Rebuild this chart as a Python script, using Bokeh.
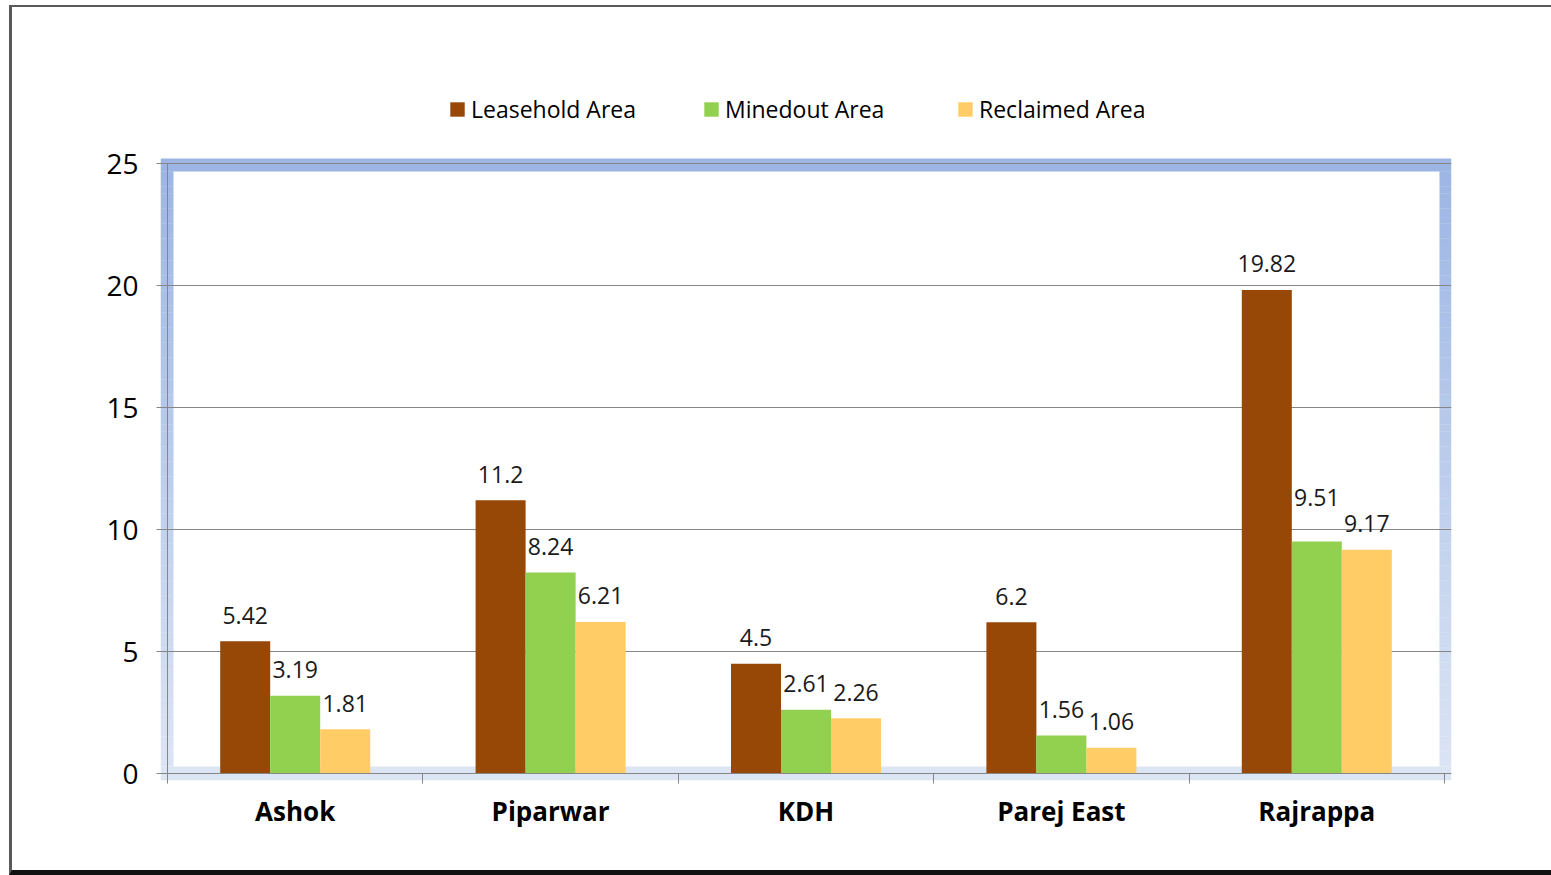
from bokeh.plotting import figure
from bokeh.models import Range1d, FixedTicker, Legend, LegendItem, ColumnDataSource
from bokeh.core.properties import value
from bokeh.transform import dodge
from bokeh.embed import file_html
from bokeh.resources import INLINE

# ---------------- data ----------------
categories = ["Ashok", "Piparwar", "KDH", "Parej East", "Rajrappa"]
series_names = ["Leasehold Area", "Minedout Area", "Reclaimed Area"]
leasehold = [5.42, 11.2, 4.5, 6.2, 19.82]
minedout = [3.19, 8.24, 2.61, 1.56, 9.51]
reclaimed = [1.81, 6.21, 2.26, 1.06, 9.17]
y_ticks = [0, 5, 10, 15, 20, 25]

# ---------------- style / layout ----------------
colors = ["#974706", "#92D050", "#FFCC66"]
FONT = "Open Sans"
W, H = 1542, 870            # canvas size (host element clips the overflow)
ML, MR, MT, MB = 148, 103, 73, 97
frame_w = W - ML - MR
frame_h = H - MT - MB
n = len(categories)
PAD_L, PAD_R, PAD_B, PAD_T = 7, 7, 7, 83     # px between data extent and frame edge
KX = (frame_w - PAD_L - PAD_R) / n
KY = (frame_h - PAD_B - PAD_T) / y_ticks[-1]
bw = 50 / KX
LABEL_GAP = 26
label_raise = {("Minedout Area", "Rajrappa"): 18}

p = figure(width=W, height=H, output_backend="svg", toolbar_location=None,
           x_range=Range1d(-PAD_L / KX, n + PAD_R / KX),
           y_range=Range1d(-PAD_B / KY, y_ticks[-1] + PAD_T / KY),
           min_border_left=ML, min_border_right=MR, min_border_top=MT, min_border_bottom=MB,
           background_fill_color="white", border_fill_color="white",
           styles={"border-left": "3px solid #5a5a5a", "border-top": "2px solid #5a5a5a",
                   "border-bottom": "5px solid #111111", "margin-top": "5px",
                   "margin-left": "9px"})
p.outline_line_color = None
p.xgrid.visible = False
p.ygrid.grid_line_color = "#868686"
p.ygrid.grid_line_width = 1

# ---- gradient plot-area border (decoration) ----
def grad(t):
    c0 = (155, 181, 227)
    c1 = (221, 229, 244)
    r, g, b = (round(a + (bb - a) * t) for a, bb in zip(c0, c1))
    return "#%02x%02x%02x" % (r, g, b)

xs, xe = p.x_range.start, p.x_range.end
ys = p.y_range.start
ye = y_ticks[-1] + 5 / KY          # outer top edge of the border
tl, tr = 13 / KX, 12 / KX
tt, tb = 13 / KY, 14 / KY
ql, qr, qb, qt, qc = [], [], [], [], []
ql.append(xs); qr.append(xe); qb.append(ye - tt); qt.append(ye); qc.append(grad(0.01))
ql.append(xs); qr.append(xe); qb.append(ys); qt.append(ys + tb); qc.append(grad(0.99))
N = 80
span = (ye - tt) - (ys + tb)
for k in range(N):
    top = ye - tt - span * k / N
    bot = ye - tt - span * (k + 1) / N
    t = (ye - (top + bot) / 2) / (ye - ys)
    for a, b in ((xs, xs + tl), (xe - tr, xe)):
        ql.append(a); qr.append(b); qb.append(bot); qt.append(top + 0.01); qc.append(grad(t))
p.quad(left=ql, right=qr, bottom=qb, top=qt, fill_color=qc, line_color=None, level="underlay")

# ---- bars ----
src = ColumnDataSource(dict(xc=[i + 0.5 for i in range(n)], cat=categories,
                            **{s: v for s, v in zip(series_names, [leasehold, minedout, reclaimed])}))
renderers = []
for j, (name, vals) in enumerate(zip(series_names, [leasehold, minedout, reclaimed])):
    off = (j - 1) * bw
    r = p.vbar(x=dodge("xc", off, range=p.x_range), top=name, width=bw, source=src,
               fill_color=colors[j], line_color=None)
    renderers.append(r)
    lsrc = ColumnDataSource(dict(
        x=[i + 0.5 + off for i in range(n)], y=vals,
        txt=[f"{v:g}" for v in vals],
        yo=[-LABEL_GAP - label_raise.get((name, c), 0) for c in categories]))
    p.text(x="x", y="y", text="txt", y_offset="yo", source=lsrc, text_align="center",
           text_baseline="alphabetic", text_font=value(FONT), text_font_size="23px",
           text_color="#1a1a1a")

# ---- axis lines ----
p.segment(x0=[0, 0], y0=[0, 0], x1=[n, 0], y1=[0, y_ticks[-1]], line_color="#868686",
          line_width=1, level="overlay")

# ---- axes ----
yax = p.yaxis[0]
yax.ticker = FixedTicker(ticks=y_ticks)
yax.axis_line_color = None
yax.major_tick_in = 7
yax.major_tick_out = 4
yax.major_tick_line_color = "#868686"
yax.minor_tick_line_color = None
yax.major_label_standoff = 18
yax.major_label_text_font = FONT
yax.major_label_text_font_size = "28px"
yax.major_label_text_color = "black"

xax = p.xaxis[0]
xax.ticker = FixedTicker(ticks=[i + 0.5 for i in range(n)], minor_ticks=list(range(n + 1)))
xax.major_label_overrides = {i + 0.5: c for i, c in enumerate(categories)}
xax.axis_line_color = None
xax.major_tick_line_color = None
xax.major_tick_in = 0
xax.major_tick_out = 0
xax.minor_tick_in = 7
xax.minor_tick_out = 3
xax.minor_tick_line_color = "#868686"
xax.major_label_standoff = 9
xax.major_label_text_font = FONT
xax.major_label_text_font_style = "bold"
xax.major_label_text_font_size = "26px"
xax.major_label_text_color = "black"

# ---- legend ----
legend = Legend(items=[LegendItem(label=s, renderers=[r]) for s, r in zip(series_names, renderers)],
                orientation="horizontal", location=(288, 655), padding=0, margin=0, spacing=0,
                glyph_width=18, glyph_height=18, label_standoff=5, label_width=231,
                label_text_font=FONT, label_text_font_size="23px", label_text_color="black",
                border_line_color=None, background_fill_alpha=0)
p.add_layout(legend)

open("out.html", "w").write(file_html(p, INLINE))
